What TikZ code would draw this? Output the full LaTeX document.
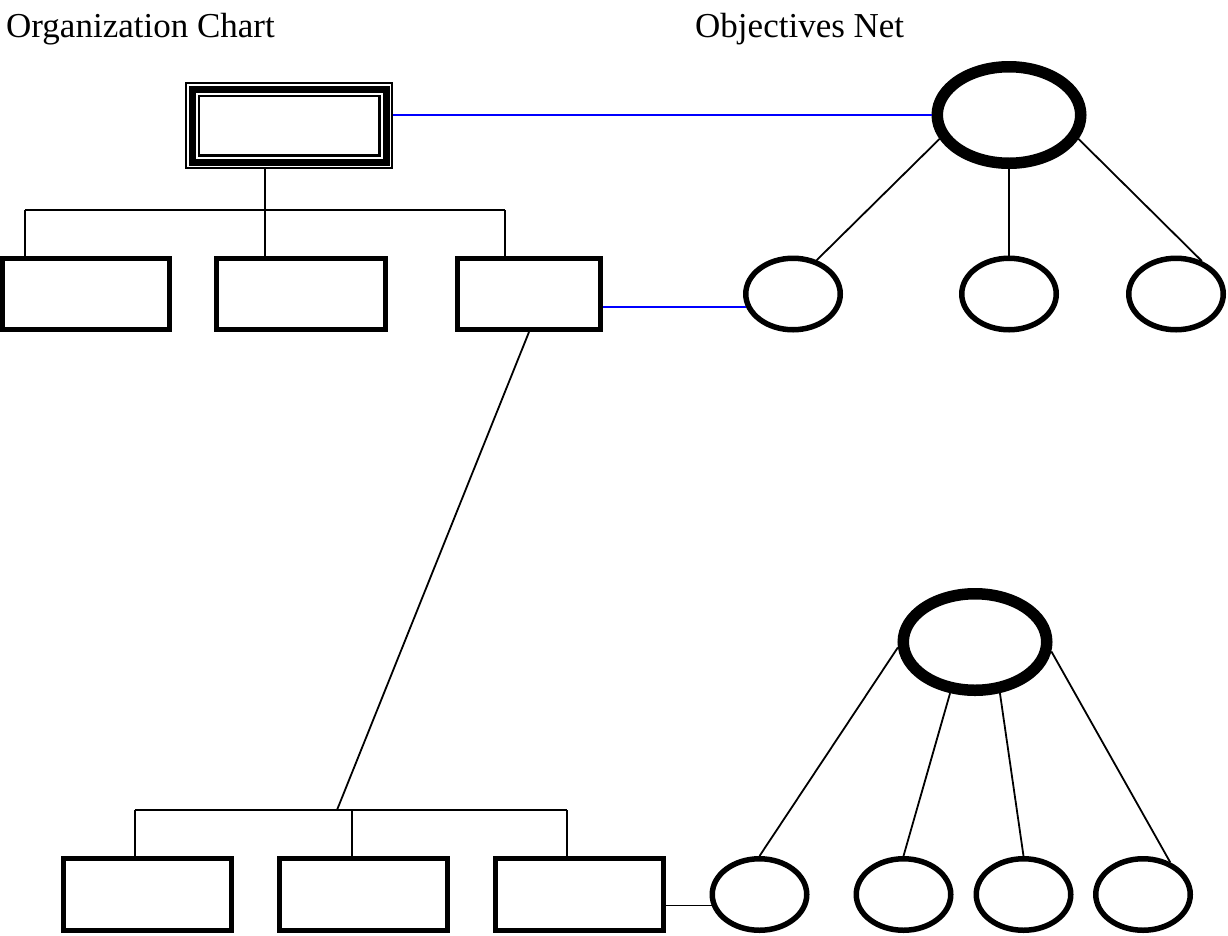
\documentclass[tikz,border=0pt]{standalone}
\usepackage{fontspec}
\setmainfont{Liberation Serif}
\usetikzlibrary{shapes.geometric,positioning}

\begin{document}
\begin{tikzpicture}[x=1pt,y=-1pt,
                    tree line/.style={draw,black,line width=1.8pt},
                    link line/.style={draw,blue,line width=1.8pt},
                    org node/.style={rectangle,draw,line width=5pt,inner sep=0pt,minimum width=168pt,minimum height=72pt},
                    goal node/.style={ellipse,draw,line width=5.5pt,inner sep=0pt,minimum width=94.5pt,minimum height=71.5pt},
                    head goal/.style={ellipse,draw,line width=11.5pt,inner sep=0pt,minimum width=143.5pt,minimum height=96.5pt},
                    title/.style={font=\fontsize{35}{42}\selectfont,inner sep=0pt,anchor=base west}]
\useasboundingbox (0,0) rectangle (1228,935);

\node[title] (OrgLabel) at (6,37) {Organization Chart};
\node[title] (ObjLabel) at (695,37) {Objectives Net};

% organization chart
\node[draw,line width=2pt,inner sep=0pt,minimum width=206pt,minimum height=85pt] (OrgTop) at (289,125.5) {};
\node[draw,line width=7pt,inner sep=0pt,minimum width=194pt,minimum height=73pt] (OrgTopMid) at (OrgTop) {};
\node[draw,line width=2.5pt,inner sep=0pt,minimum width=180.5pt,minimum height=59.5pt] (OrgTopIn) at (OrgTop) {};

\node[org node,minimum width=167pt,minimum height=71pt] (OrgA) at (86,294) {};
\node[org node,minimum width=169pt,minimum height=71pt] (OrgB) at (301,294) {};
\node[org node,minimum width=143pt,minimum height=71pt] (OrgC) at (529,294) {};

\node[org node] (OrgD) at (147.5,894.5) {};
\node[org node] (OrgE) at (363.5,894.5) {};
\node[org node] (OrgF) at (579.5,894.5) {};

\coordinate (TopJoin) at (265,210);
\coordinate (JoinA) at (25,210);
\coordinate (JoinC) at (505,210);
\coordinate (LowJoin) at (337,810);
\coordinate (JoinD) at (135,810);
\coordinate (JoinE) at (352,810);
\coordinate (JoinF) at (567,810);

\draw[tree line] (OrgTop.south -| TopJoin) -- (TopJoin);
\draw[tree line] (JoinA) -- (JoinC);
\draw[tree line] (TopJoin) -- (TopJoin |- OrgB.north);
\foreach \b in {A,C}
   \draw[tree line] (Join\b) -- (Join\b |- Org\b.north);
\draw[tree line] (JoinD) -- (JoinF);
\foreach \b in {D,E,F}
   \draw[tree line] (Join\b) -- (Join\b |- Org\b.north);
\draw[tree line] (OrgC.south) -- (LowJoin);

% objectives net
\node[head goal] (ObjTop) at (1009,115) {};
\node[goal node] (ObjA) at (793,294) {};
\node[goal node] (ObjB) at (1009,294) {};
\node[goal node] (ObjC) at (1176,294) {};

\node[head goal] (ObjLow) at (975,642) {};
\node[goal node] (ObjD) at (759.5,894.5) {};
\node[goal node] (ObjE) at (903.5,894.5) {};
\node[goal node] (ObjF) at (1023.5,894.5) {};
\node[goal node] (ObjG) at (1143,894.5) {};

\draw[tree line] (ObjTop.199) -- (ObjA.55);
\draw[tree line] (ObjTop.south) -- (ObjB.north);
\draw[tree line] (ObjTop.341) -- (ObjC.52);
\draw[tree line] (ObjLow.184) -- (ObjD.north);
\draw[tree line] (ObjLow.244) -- (ObjE.north);
\draw[tree line] (ObjLow.296) -- (ObjF.north);
\draw[tree line] (ObjLow.353) -- (ObjG.50);

% links between the two
\draw[link line] (OrgTop.east |- ObjTop.west) -- (ObjTop.west);
\draw[link line] (OrgC.east |- ObjA.195) -- (ObjA.195);
\draw[tree line] (OrgF.east |- ObjD.193) -- (ObjD.193);

\end{tikzpicture}
\end{document}
